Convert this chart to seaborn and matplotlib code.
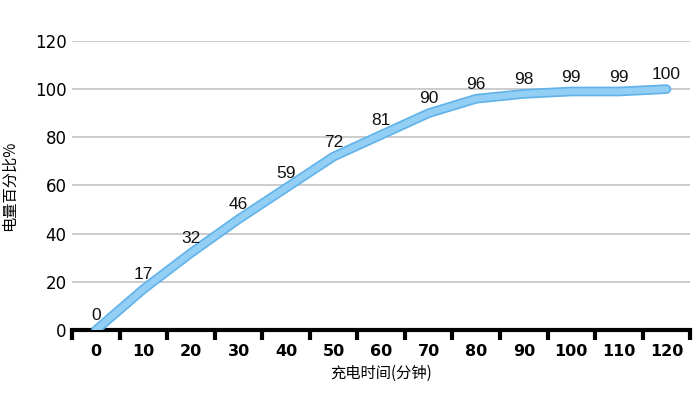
import matplotlib
matplotlib.use("Agg")
import matplotlib.pyplot as plt
import matplotlib.patheffects as pe
import seaborn as sns
import pandas as pd

# donnees
minutes = [0, 10, 20, 30, 40, 50, 60, 70, 80, 90, 100, 110, 120]
pourcent = [0, 17, 32, 46, 59, 72, 81, 90, 96, 98, 99, 99, 100]
y_ticks = [0, 20, 40, 60, 80, 100, 120]
x_label = "充电时间(分钟)"
y_label = "电量百分比%"

df = pd.DataFrame({"min": minutes, "pct": pourcent})

sns.set_style("white")
plt.rcParams['font.family'] = ['DejaVu Sans', 'Noto Sans CJK SC']
plt.rcParams['text.color'] = "black"
plt.rcParams['xtick.color'] = "black"
plt.rcParams['ytick.color'] = "black"
plt.rcParams['axes.labelcolor'] = "black"

fig = plt.figure(figsize=(7, 3.93), dpi=100)
ax = fig.add_axes([0.103, 0.160, 0.883, 0.736])

sns.lineplot(data=df, x="min", y="pct", ax=ax, color="#93cff5", linewidth=4.5,
             solid_capstyle="round", solid_joinstyle="round",
             path_effects=[pe.Stroke(linewidth=7, foreground="#62b3ea"), pe.Normal()],
             zorder=3)

for x, y in zip(minutes, pourcent):
    ax.annotate(str(y), (x, y), xytext=(0, 5), textcoords="offset points",
                ha="center", va="bottom", fontsize=12.5, family="Liberation Sans",
                color="#111111")

ax.set_xlim(-5, 125)
ax.set_ylim(0, 120)
ax.set_yticks(y_ticks)
ax.set_xticks(minutes)
ax.set_xticks([m - 5 for m in minutes] + [125], minor=True)
ax.tick_params(axis="x", which="major", bottom=False, length=0, pad=10, labelsize=11.5)
ax.tick_params(axis="x", which="minor", bottom=True, length=7, width=3, direction="out", color="black")
ax.tick_params(axis="y", left=False, length=0, pad=4, labelsize=12)
for lab in ax.get_xticklabels():
    lab.set_fontweight("bold")

ax.grid(axis="y", color="#c8c8c8", linewidth=1.3)
ax.set_axisbelow(True)
for s in ["top", "right", "left"]:
    ax.spines[s].set_visible(False)
ax.spines["bottom"].set_linewidth(3)
ax.spines["bottom"].set_color("black")
ax.spines["bottom"].set_zorder(2)

ax.set_xlabel(x_label, family=["Noto Sans CJK SC", "DejaVu Sans"], fontsize=11, labelpad=4)
ax.set_ylabel(y_label, family=["Noto Sans CJK SC", "DejaVu Sans"], fontsize=11, labelpad=12)

fig.savefig("out.png", dpi=100)
